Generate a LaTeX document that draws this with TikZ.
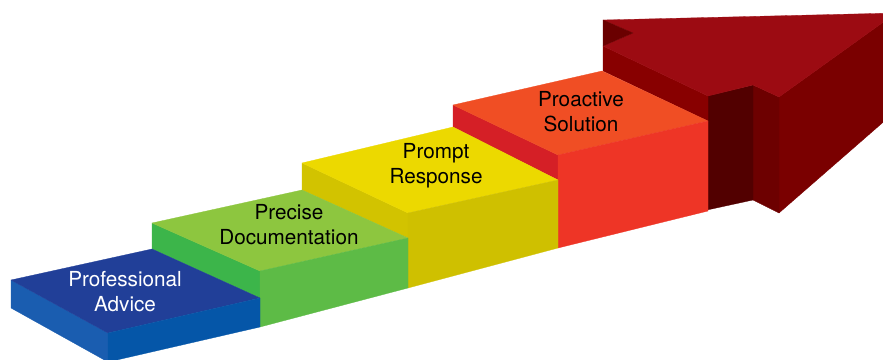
\documentclass[tikz,border=0pt]{standalone}
\usepackage{fontspec}
\setmainfont{TeX Gyre Heros}
\usetikzlibrary{positioning}

\definecolor{blueTop}{HTML}{213F98}
\definecolor{blueLeft}{HTML}{1A5DB0}
\definecolor{blueFront}{HTML}{0556A8}
\definecolor{greenTop}{HTML}{8DC63F}
\definecolor{greenLeft}{HTML}{3CB54A}
\definecolor{greenFront}{HTML}{5DBB46}
\definecolor{yellowTop}{HTML}{ECD900}
\definecolor{yellowLeft}{HTML}{D2C300}
\definecolor{yellowFront}{HTML}{CFC000}
\definecolor{redTop}{HTML}{F04E24}
\definecolor{redLeft}{HTML}{D51F26}
\definecolor{redFront}{HTML}{EE3526}
\definecolor{arrowTop}{HTML}{9C0B12}
\definecolor{arrowLeft}{HTML}{880000}
\definecolor{arrowNotch}{HTML}{6A0000}
\definecolor{shaftFront}{HTML}{520000}
\definecolor{headLeft}{HTML}{6D0000}
\definecolor{headRight}{HTML}{7A0000}

\tikzset{
  face/.style={fill=#1, draw=#1, line width=0.3pt, line join=round},
  steplabel/.style={font=\fontsize{20.7}{25}\selectfont, align=center, inner sep=0pt, anchor=center}
}

\begin{document}
\begin{tikzpicture}[x=1pt,y=-1pt]
\useasboundingbox (0,0) rectangle (883,359);
\clip (0,0) rectangle (883,359);

% arrow
\fill[face=headRight] (779,97) -- (896,13) -- (896,111) -- (779,213) -- cycle;
\fill[face=headLeft] (753,85) -- (779,97) -- (779,213) -- (753,200) -- cycle;
\fill[face=shaftFront] (707,96) -- (753,85) -- (753,200) -- (707,210) -- cycle;
\fill[face=arrowLeft] (603,46) -- (708,96) -- (708,121) -- (603,71) -- cycle;
\fill[face=arrowTop] (603,20) -- (896,13) -- (779,97) -- (753,85) -- (708,96) -- (603,46) -- (633,33) -- cycle;
\fill[face=arrowNotch] (603,20) -- (633,33) -- (603,46) -- cycle;

% red step
\fill[face=redLeft] (453,105) -- (558,155) -- (558,180) -- (453,127) -- cycle;
\fill[face=redTop] (453,105) -- (602,71) -- (708,121) -- (558,155) -- cycle;
\fill[face=redFront] (558,155) -- (708,121) -- (708,211) -- (558,248) -- cycle;

% yellow step
\fill[face=yellowLeft] (302,163) -- (408,213) -- (408,238) -- (302,190) -- cycle;
\fill[face=yellowTop] (302,163) -- (453,127) -- (558,180) -- (408,213) -- cycle;
\fill[face=yellowFront] (408,213) -- (558,180) -- (558,248) -- (408,288) -- cycle;

% green step
\fill[face=greenLeft] (152,223) -- (260,271) -- (260,298) -- (152,249) -- cycle;
\fill[face=greenTop] (152,223) -- (302,190) -- (408,238) -- (260,271) -- cycle;
\fill[face=greenFront] (260,271) -- (408,238) -- (408,288) -- (260,327) -- cycle;

% blue step
\fill[face=blueLeft] (11,280) -- (108,333) -- (108,362) -- (11,308) -- cycle;
\fill[face=blueTop] (11,280) -- (152,249) -- (260,298) -- (108,333) -- cycle;
\fill[face=blueFront] (108,333) -- (260,298) -- (260,327) -- (108,362) -- cycle;

\node[steplabel, text=white] (advice) at (125,292) {Professional\\Advice};
\node[steplabel, text=black] (docu) at (289,225) {Precise\\Documentation};
\node[steplabel, text=black] (prompt) at (436,166) {Prompt\\Response};
\node[steplabel, text=black] (solution) at (581,112) {Proactive\\Solution};

\end{tikzpicture}
\end{document}
